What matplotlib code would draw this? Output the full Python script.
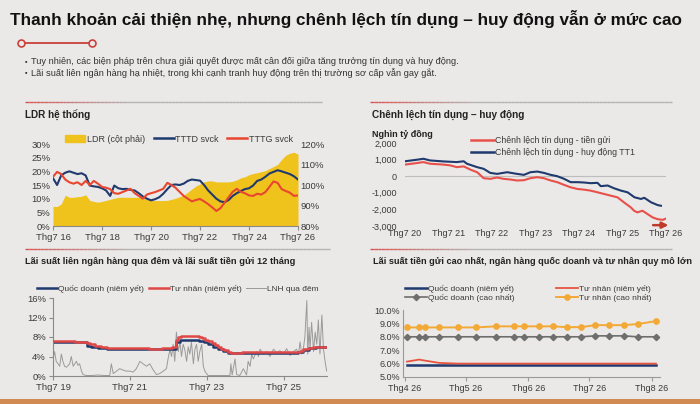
import numpy as np
import pandas as pd
import matplotlib
matplotlib.use('Agg')
import matplotlib.pyplot as plt
from matplotlib.patches import Patch, Rectangle
from matplotlib.lines import Line2D
from matplotlib.collections import LineCollection
from matplotlib.ticker import FuncFormatter

plt.rcParams['font.family'] = ['Liberation Sans', 'DejaVu Sans']

# ---------------- data ----------------
# LDR he thong: every 2 months from Thg7 16 (month 0) to Thg7 26 (month 120)
ldr_months = list(range(0, 121, 2))
ldr = [89.6, 89.5, 90.7, 95.0, 94.0, 94.0, 94.3, 94.5, 95.2, 92.5,
       92.0, 91.6, 92.0, 92.5, 93.0, 93.5, 94.0, 94.0, 94.0, 94.0,
       94.0, 94.0, 93.5, 93.0, 92.6, 92.4, 92.4, 92.4, 92.5, 93.0,
       93.5, 94.3, 95.0, 96.5, 98.0, 99.5, 100.5, 101.5, 102.0, 102.0,
       101.5, 101.5, 101.5, 101.5, 101.8, 102.5, 103.5, 104.0, 105.0, 105.6,
       106.0, 106.5, 107.0, 108.0, 109.0, 110.0, 112.5, 114.5, 115.5, 116.0,
       115.0]
tttd = [17.5, 15.0, 18.5, 19.5, 20.0, 19.5, 19.0, 19.3, 18.5, 14.8,
        14.5, 14.3, 13.8, 13.0, 11.0, 14.8, 13.8, 13.5, 13.6, 13.2,
        13.0, 12.0, 10.8, 10.0, 9.4, 9.8, 10.5, 11.8, 13.5, 15.0,
        15.2, 15.0, 15.5, 16.5, 17.0, 16.8, 16.6, 15.0, 13.0, 11.5,
        10.0, 9.0, 8.7, 9.5, 11.0, 12.0, 12.8, 13.5, 13.8, 14.8,
        16.5, 17.0, 18.0, 19.2, 19.8, 20.4, 20.0, 19.5, 19.0, 18.2,
        17.0]
tttg = [18.0, 19.8, 19.0, 17.0, 16.0, 15.5, 16.0, 15.0, 16.5, 15.0,
        16.5, 15.5, 14.3, 14.0, 13.5, 12.0, 11.8, 12.4, 13.0, 13.6,
        12.0, 11.0, 10.0, 11.5, 12.0, 12.4, 13.0, 13.6, 15.8, 15.0,
        14.0, 12.5, 11.0, 10.0, 9.0, 9.5, 9.9, 9.0, 8.0, 6.8,
        5.5, 6.5, 8.5, 10.5, 12.5, 13.6, 12.5, 12.0, 11.2, 11.0,
        11.8, 11.5, 12.4, 14.3, 16.3, 15.8, 13.5, 12.8, 12.2, 11.0,
        11.2]
ldr_ticks = ['Thg7 16', 'Thg7 18', 'Thg7 20', 'Thg7 22', 'Thg7 24', 'Thg7 26']

# Chenh lech tin dung - huy dong (months from Thg7 20)
gap_tt1_m = [0, 3.2, 5.1, 6.9, 10.6, 14.3, 16.2, 17.1, 19.9, 21.7,
             23.5, 25.4, 28.2, 30.9, 32.8, 34.6, 36.5, 38.3, 40.2, 42.0,
             43.9, 45.7, 47.6, 49.4, 51.2, 53.1, 54.0, 55.9, 57.7, 59.6,
             61.4, 63.3, 65.1, 66.0, 67.9, 69.7, 70.6]
gap_tt1 = [900, 990, 1050, 950, 890, 850, 900, 750, 545, 444,
           200, 140, 240, 140, 80, 240, 280, 200, 80, 0,
           -160, -360, -360, -380, -420, -400, -600, -560, -730, -870,
           -970, -1270, -1370, -1300, -1575, -1740, -1780]
gap_dep_m = [0, 3.2, 5.1, 6.9, 10.6, 12.5, 14.3, 16.2, 18.0, 19.9,
             21.7, 23.5, 25.4, 27.2, 29.1, 30.9, 32.8, 34.6, 36.5, 38.3,
             40.2, 42.0, 43.9, 45.7, 47.6, 49.4, 51.2, 53.1, 54.9, 56.7,
             58.6, 60.4, 62.3, 63.2, 64.1, 65.5, 66.9, 68.3, 69.7, 71.1,
             72.0]
gap_dep = [700, 790, 850, 750, 700, 650, 545, 590, 400, 240,
           -120, -160, -80, -160, -200, -260, -240, -120, -60, -120,
           -260, -360, -525, -670, -770, -810, -870, -970, -1070, -1170,
           -1270, -1575, -1880, -2080, -2180, -2080, -2280, -2480, -2590, -2630,
           -2550]
gap_ticks = ['Thg7 20', 'Thg7 21', 'Thg7 22', 'Thg7 23', 'Thg7 24', 'Thg7 25', 'Thg7 26']

# Lai suat LNH qua dem va tien gui 12 thang (months from Thg7 19)
tn_m = [0, 4, 7, 10.5, 11.5, 13, 15, 17, 19, 30,
        34, 36, 37, 38.3, 39, 40, 42.5, 44.5, 45.5, 46.5,
        47.5, 48.5, 49.5, 50.5, 51.5, 52.5, 53.5, 54.5, 55.5, 57,
        59, 62, 77, 78, 79.5, 81, 85.5]
tn_v = [7.2, 7.1, 7.0, 6.8, 6.5, 6.2, 6.0, 5.8, 5.7, 5.6,
        5.7, 5.8, 6.0, 7.4, 7.9, 8.2, 8.3, 8.2, 8.0, 7.7,
        7.4, 7.1, 6.7, 6.3, 6.0, 5.6, 5.3, 5.0, 4.8, 4.7,
        4.9, 5.0, 5.2, 5.5, 5.8, 6.0, 6.0]
qd_m = [0, 5, 10.5, 12, 14, 17, 19, 36, 38.3, 39.5,
        41, 45.5, 47, 48.5, 50, 51.5, 53, 54.5, 56, 76.5,
        78, 80, 82, 85.5]
qd_v = [7.0, 6.9, 6.2, 6.0, 5.8, 5.6, 5.5, 5.6, 6.9, 7.3,
        7.4, 7.2, 7.0, 6.6, 6.0, 5.5, 5.1, 4.8, 4.7, 5.0,
        5.4, 5.8, 6.0, 6.0]
lnh_m = [0.0, 0.5, 1.0, 1.6, 2.1, 2.6, 3.1, 3.6, 4.2, 5.2,
         5.7, 6.3, 7.3, 7.8, 8.3, 8.9, 9.4, 10.4, 12.0, 14.0,
         16.0, 17.7, 18.2, 18.8, 19.8, 20.8, 21.9, 22.9, 24.0, 25.0,
         26.0, 27.1, 28.1, 29.2, 30.2, 31.3, 32.3, 33.3, 34.4, 35.4,
         35.9, 36.5, 37.0, 37.5, 38.0, 38.5, 39.1, 39.6, 40.1, 40.6,
         41.1, 41.7, 42.2, 42.7, 43.2, 43.8, 44.3, 44.8, 45.3, 45.8,
         46.4, 46.9, 47.4, 47.9, 48.4, 50.0, 52.0, 55.2, 55.5, 55.9,
         56.8, 57.3, 58.3, 59.4, 60.4, 60.9, 61.5, 62.0, 62.5, 63.5,
         64.1, 64.6, 65.6, 66.7, 67.7, 68.8, 69.8, 70.8, 71.9, 72.9,
         74.0, 75.0, 76.0, 76.6, 77.1, 77.6, 78.1, 78.6, 79.2, 79.5,
         79.9, 80.2, 80.7, 81.3, 81.8, 82.3, 82.8, 83.3, 83.9, 84.4,
         84.9, 85.4]
lnh_v = [3.5, 5.0, 3.0, 2.5, 2.0, 4.5, 3.0, 2.0, 1.8, 2.5,
         4.0, 2.0, 3.0, 2.2, 2.5, 1.0, 0.3, 0.1, 0.1, 0.2,
         0.1, 0.1, 2.5, 0.5, 1.0, 1.5, 1.2, 1.0, 1.0, 0.8,
         1.5, 3.0, 2.5, 2.0, 2.5, 1.2, 0.3, 0.5, 1.0, 1.5,
         3.5, 5.5, 4.0, 6.5, 3.0, 9.0, 5.0, 7.0, 4.0, 6.5,
         5.5, 3.0, 6.0, 4.5, 7.0, 2.5, 5.5, 6.5, 3.0, 5.0,
         6.5, 2.0, 1.0, 0.5, 0.1, 0.1, 0.1, 0.1, 2.5, 0.2,
         3.5, 0.3, 0.1, 1.5, 0.2, 3.0, 2.0, 4.5, 3.5, 5.0,
         4.0, 5.5, 4.5, 5.0, 4.0, 5.5, 4.8, 5.2, 4.5, 5.6,
         4.2, 5.0, 5.5, 4.5, 7.0, 4.5, 5.5, 8.0, 15.5, 4.5,
         10.0, 5.5, 11.0, 5.0, 9.0, 6.5, 11.5, 4.5, 12.5, 5.5,
         3.0, 1.0]
ir_ticks = ['Thg7 19', 'Thg7 21', 'Thg7 23', 'Thg7 25']

# Lai suat tien gui cao nhat (2026)
dep_dates = ['2026-04-02', '2026-04-08', '2026-04-11', '2026-04-18', '2026-04-27',
             '2026-05-06', '2026-05-16', '2026-05-25', '2026-05-30', '2026-06-06',
             '2026-06-13', '2026-06-20', '2026-06-27', '2026-07-04', '2026-07-11',
             '2026-07-18', '2026-07-25', '2026-08-03']
qd_posted = [5.9, 5.9, 5.9, 5.9, 5.9, 5.9, 5.9, 5.9, 5.9, 5.9,
             5.9, 5.9, 5.9, 5.9, 5.9, 5.9, 5.9, 5.9]
tn_posted = [6.15, 6.3, 6.22, 6.05, 6.0, 6.0, 6.0, 6.0, 6.0, 6.0,
             6.0, 6.0, 6.0, 6.0, 6.0, 6.0, 6.0, 6.0]
qd_max = [8.0, 8.0, 8.0, 8.0, 8.0, 8.0, 8.0, 8.0, 8.0, 8.0,
          8.0, 8.0, 8.0, 8.07, 8.07, 8.07, 8.0, 8.0]
tn_max = [8.7, 8.7, 8.7, 8.7, 8.7, 8.7, 8.78, 8.78, 8.78, 8.78,
          8.78, 8.72, 8.72, 8.87, 8.87, 8.87, 8.95, 9.17]
dep_ticks = ['2026-04-01', '2026-05-01', '2026-06-01', '2026-07-01', '2026-08-01']
dep_ticklabels = ['Thg4 26', 'Thg5 26', 'Thg6 26', 'Thg7 26', 'Thg8 26']

# ---------------- layout helpers ----------------
W, H = 700, 404
BG = '#ebe9e8'
TXT = '#222222'
TICK = '#3a3a3a'
NAVY = '#1f3a6e'
RED = '#e8462f'
YEL = '#f0c21c'


def fx(x):
    return x / W


def fy(y):
    return 1 - y / H


def box(x0, y0, x1, y1):
    return [fx(x0), fy(y1), (x1 - x0) / W, (y1 - y0) / H]


def style_ax(ax):
    ax.set_facecolor('none')
    for s in ax.spines.values():
        s.set_visible(False)
    ax.tick_params(labelsize=6.5, colors=TICK, length=0, pad=2)


def separator(x0, x1, y):
    xs = np.linspace(x0, x1, 80)
    segs = [[(fx(a), fy(y)), (fx(b), fy(y))] for a, b in zip(xs[:-1], xs[1:])]
    red = np.array([0.84, 0.33, 0.31])
    gray = np.array([0.70, 0.70, 0.70])
    cols = []
    for a in xs[:-1]:
        t = min(1.0, (a - x0) / ((x1 - x0) * 0.35))
        cols.append(tuple(red * (1 - t) + gray * t))
    fig.add_artist(LineCollection(segs, colors=cols, linewidths=1.0,
                                  transform=fig.transFigure))


fig = plt.figure(figsize=(7.0, 4.04), dpi=100, facecolor=BG)

# header
fig.text(fx(10), fy(19), 'Thanh khoản cải thiện nhẹ, nhưng chênh lệch tín dụng – huy động vẫn ở mức cao',
         fontsize=12.3, fontweight='bold', color='#111111', va='center', ha='left')
fig.add_artist(Line2D([fx(21), fx(92)], [fy(43), fy(43)], color='#c9403a', lw=1.3,
                      marker='o', ms=5, mfc=BG, mec='#c9403a', mew=1.2,
                      transform=fig.transFigure))
bullets = ['Tuy nhiên, các biện pháp trên chưa giải quyết được mất cân đối giữa tăng trưởng tín dụng và huy động.',
           'Lãi suất liên ngân hàng hạ nhiệt, trong khi cạnh tranh huy động trên thị trường sơ cấp vẫn gay gắt.']
for i, b in enumerate(bullets):
    yy = 62 + 11 * i
    fig.text(fx(25), fy(yy), '▪', fontsize=5, color='#333333', va='center')
    fig.text(fx(31), fy(yy), b, fontsize=6.7, color='#333333', va='center')

separator(25, 322, 102)
separator(370, 672, 102)
separator(25, 330, 249)
separator(370, 672, 249)

fig.text(fx(25), fy(115), 'LDR hệ thống', fontsize=7.2, fontweight='bold', color=TXT, va='center')
fig.text(fx(372), fy(115), 'Chênh lệch tín dụng – huy động', fontsize=7.2, fontweight='bold', color=TXT, va='center')
fig.text(fx(25), fy(261), 'Lãi suất liên ngân hàng qua đêm và lãi suất tiền gửi 12 tháng',
         fontsize=6.7, fontweight='bold', color=TXT, va='center')
fig.text(fx(373), fy(261), 'Lãi suất tiền gửi cao nhất, ngân hàng quốc doanh và tư nhân quy mô lớn',
         fontsize=6.6, fontweight='bold', color=TXT, va='center')

# ---------------- chart 1: LDR ----------------
ax1 = fig.add_axes(box(53, 144, 298, 226))
style_ax(ax1)
ax1b = ax1.twinx()
style_ax(ax1b)
ax1.fill_between(ldr_months, 80, ldr, color=YEL, lw=0, zorder=1)
ax1.set_ylim(80, 120)
ax1.set_yticks([80, 90, 100, 110, 120])
ax1.yaxis.set_major_formatter(FuncFormatter(lambda v, p: f'{v:.0f}%'))
ax1.set_xlim(0, 120)
ax1.set_xticks(range(0, 121, 24))
ax1.set_xticklabels(ldr_ticks)
ax1.spines['bottom'].set_visible(True)
ax1.spines['bottom'].set_color('#8a8a8a')
ax1.tick_params(axis='x', length=3, color='#8a8a8a', labelsize=6.8)
ax1.tick_params(axis='y', labelsize=6.8, left=False, labelleft=False, right=False, labelright=True)

ax1b.plot(ldr_months, tttd, color=NAVY, lw=1.5)
ax1b.plot(ldr_months, tttg, color=RED, lw=1.5)
ax1b.set_ylim(0, 30)
ax1b.set_yticks(range(0, 31, 5))
ax1b.yaxis.set_major_formatter(FuncFormatter(lambda v, p: f'{v:.0f}%'))
ax1b.tick_params(axis='y', labelsize=6.8, left=False, labelleft=True, right=False, labelright=False)
h1 = [Patch(color=YEL, label='LDR (cột phải)'),
      Line2D([], [], color=NAVY, lw=1.8, label='TTTD svck'),
      Line2D([], [], color=RED, lw=1.8, label='TTTG svck')]
fig.legend(handles=h1, loc='center', bbox_to_anchor=(fx(179), fy(139)), ncol=3, frameon=False,
           fontsize=6.5, handlelength=2.2, handletextpad=0.15, columnspacing=1.0,
           handleheight=0.9, labelcolor=TICK)

# ---------------- chart 2: credit - deposit gap ----------------
ax2 = fig.add_axes(box(405, 143, 666, 226))
style_ax(ax2)
ax2.axhline(0, color='#bdbdbd', lw=0.8, zorder=1)
ax2.plot(gap_tt1_m, gap_tt1, color=NAVY, lw=1.5, zorder=3)
ax2.plot(gap_dep_m, gap_dep, color='#e8504a', lw=1.5, zorder=2)
ax2.set_xlim(0, 72)
ax2.set_xticks(range(0, 73, 12))
ax2.set_xticklabels(gap_ticks)
ax2.set_ylim(-3000, 2000)
ax2.set_yticks(range(-3000, 2001, 1000))
ax2.yaxis.set_major_formatter(FuncFormatter(lambda v, p: f'{v:,.0f}'))
ax2.tick_params(axis='y', pad=6)
ax2.annotate('', xy=(1.02, 0.01), xytext=(0.94, 0.01), xycoords='axes fraction',
             arrowprops=dict(arrowstyle='-|>', color='#c0392b', lw=1.8, mutation_scale=9))
fig.text(fx(372), fy(134), 'Nghìn tỷ đồng', fontsize=6.5, fontweight='bold', color=TXT, va='center')
h2 = [Line2D([], [], color='#e8504a', lw=1.8, label='Chênh lệch tín dụng - tiền gửi'),
      Line2D([], [], color=NAVY, lw=1.8, label='Chênh lệch tín dụng - huy động TT1')]
fig.legend(handles=h2, loc='upper left', bbox_to_anchor=(fx(466), fy(131)), ncol=1, frameon=False,
           fontsize=6.3, handlelength=2.6, handletextpad=0.15, labelspacing=0.35,
           borderpad=0.1, labelcolor=TICK)

# ---------------- chart 3: interbank & 12m deposit ----------------
ax3 = fig.add_axes(box(53, 298, 327, 376))
style_ax(ax3)
ax3.plot(lnh_m, lnh_v, color='#9a9a9a', lw=0.7, zorder=1)
ax3.plot(qd_m, qd_v, color=NAVY, lw=1.8, drawstyle='steps-post', zorder=2)
ax3.plot(tn_m, tn_v, color='#e04848', lw=1.8, drawstyle='steps-post', zorder=3)
ax3.set_xlim(0, 85.5)
ax3.set_ylim(0, 16)
ax3.set_yticks(range(0, 17, 4))
ax3.yaxis.set_major_formatter(FuncFormatter(lambda v, p: f'{v:.0f}%'))
ax3.set_xticks(range(0, 73, 24))
ax3.set_xticklabels(ir_ticks)
for s in ('left', 'bottom'):
    ax3.spines[s].set_visible(True)
    ax3.spines[s].set_color('#8a8a8a')
ax3.tick_params(length=3, color='#8a8a8a', labelsize=6.8)
h3 = [Line2D([], [], color=NAVY, lw=1.8, label='Quốc doanh (niêm yết)'),
      Line2D([], [], color='#e04848', lw=1.8, label='Tư nhân (niêm yết)'),
      Line2D([], [], color='#9a9a9a', lw=0.7, label='LNH qua đêm')]
fig.legend(handles=h3, loc='center', bbox_to_anchor=(fx(178), fy(289)), ncol=3, frameon=False,
           fontsize=6.0, handlelength=2.4, handletextpad=0.1, columnspacing=0.6, labelcolor=TICK)

# ---------------- chart 4: highest deposit rates ----------------
dd = pd.to_datetime(dep_dates)
ax4 = fig.add_axes(box(403, 310, 660, 377))
style_ax(ax4)
ax4.plot(dd, qd_posted, color=NAVY, lw=1.8, zorder=2)
ax4.plot(dd, tn_posted, color='#e8553f', lw=1.3, zorder=3)
ax4.plot(dd, qd_max, color='#6e6e6e', lw=1.2, marker='D', ms=3.2, zorder=4)
ax4.plot(dd, tn_max, color='#f3a936', lw=1.4, marker='o', ms=3.8, zorder=5)
ax4.set_xlim(pd.Timestamp('2026-03-31'), pd.Timestamp('2026-08-05'))
ax4.set_ylim(5, 10)
ax4.set_yticks(range(5, 11))
ax4.yaxis.set_major_formatter(FuncFormatter(lambda v, p: f'{v:.1f}%'))
ax4.set_xticks(pd.to_datetime(dep_ticks))
ax4.set_xticklabels(dep_ticklabels)
for s in ('left', 'bottom'):
    ax4.spines[s].set_visible(True)
    ax4.spines[s].set_color('#9a9a9a')
ax4.tick_params(axis='x', length=3, color='#9a9a9a', labelsize=6.5)
ax4.tick_params(axis='y', labelsize=6.5)
h4a = [Line2D([], [], color=NAVY, lw=1.8, label='Quốc doanh (niêm yết)'),
       Line2D([], [], color='#6e6e6e', lw=1.2, marker='D', ms=3.2, label='Quốc doanh (cao nhất)')]
h4b = [Line2D([], [], color='#e8553f', lw=1.3, label='Tư nhân (niêm yết)'),
       Line2D([], [], color='#f3a936', lw=1.4, marker='o', ms=3.8, label='Tư nhân (cao nhất)')]
for hh, x0 in ((h4a, 400), (h4b, 551)):
    fig.legend(handles=hh, loc='upper left', bbox_to_anchor=(fx(x0), fy(280)), ncol=1, frameon=False,
               fontsize=6.0, handlelength=2.6, handletextpad=0.15,
               labelspacing=0.15, borderpad=0.1, labelcolor=TICK)

# bottom strip
fig.add_artist(Rectangle((0, 0), 1, 5 / H, color='#d08a52', transform=fig.transFigure, lw=0))

fig.savefig('out.png', dpi=100, facecolor=BG)
